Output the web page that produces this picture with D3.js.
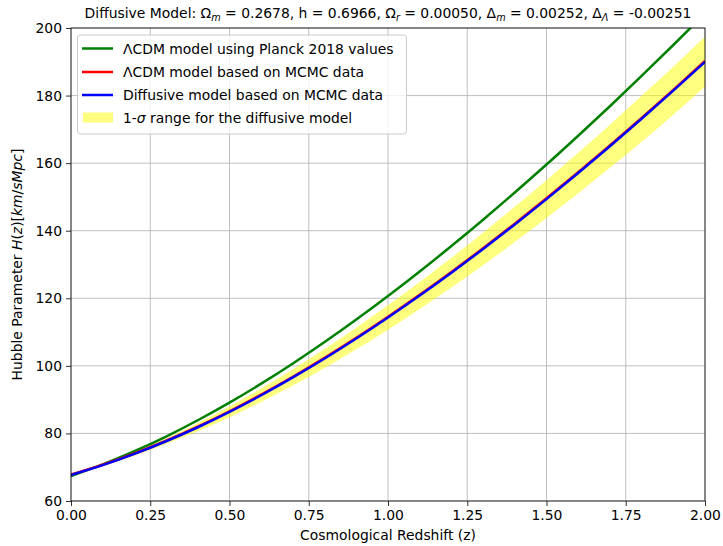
<!DOCTYPE html>
<html>
<head>
<meta charset="utf-8">
<script src="https://cdn.jsdelivr.net/npm/d3@7"></script>
<style>
  html, body { margin: 0; padding: 0; background: #fff; }
  svg { display: block; font-family: "DejaVu Sans", sans-serif; }
</style>
</head>
<body>
<svg id="chart" width="723" height="546"></svg>
<script>
// Redshift samples
const redshift = [0.0, 0.1, 0.2, 0.3, 0.4, 0.5, 0.6, 0.7, 0.8, 0.9, 1.0,
                  1.1, 1.2, 1.3, 1.4, 1.5, 1.6, 1.7, 1.8, 1.9, 2.0];
// ΛCDM with Planck 2018 parameters
const hPlanck = [67.40, 70.83, 74.73, 79.09, 83.90, 89.11, 94.73, 100.71, 107.04, 113.70, 120.66,
                 127.92, 135.46, 143.26, 151.31, 159.59, 168.12, 176.85, 185.81, 194.97, 204.30];
// ΛCDM fitted to MCMC chains
const hLcdmMcmc = [67.80, 70.72, 74.07, 77.84, 82.00, 86.56, 91.49, 96.77, 102.38, 108.30, 114.53,
                   121.03, 127.80, 134.83, 142.10, 149.59, 157.31, 165.24, 173.37, 181.70, 190.22];
// Diffusive model fitted to MCMC chains
const hDiffusive = [67.70, 70.60, 73.93, 77.68, 81.83, 86.38, 91.30, 96.57, 102.17, 108.09, 114.31,
                    120.80, 127.57, 134.60, 141.86, 149.35, 157.07, 165.00, 173.13, 181.46, 189.98];
// 1-sigma band of the diffusive model
const hDiffLower = [67.70, 70.40, 73.43, 76.88, 80.63, 84.78, 89.30, 94.17, 99.37, 104.89, 110.71,
                    116.80, 123.17, 129.80, 136.66, 143.75, 151.07, 158.60, 166.33, 174.36, 182.58];
const hDiffUpper = [67.70, 70.80, 74.43, 78.48, 83.03, 87.98, 93.30, 98.97, 104.97, 111.29, 117.91,
                    124.80, 131.97, 139.40, 147.06, 154.95, 163.07, 171.40, 179.93, 188.56, 197.38];

const xTicks = [0.00, 0.25, 0.50, 0.75, 1.00, 1.25, 1.50, 1.75, 2.00];
const yTicks = [60, 80, 100, 120, 140, 160, 180, 200];

const FS = 13.9;
const LW = 2.5;
const svg = d3.select("#chart");
const m = { left: 71, right: 705, top: 28, bottom: 501 };

const x = d3.scaleLinear().domain([0, 2]).range([m.left, m.right]);
const y = d3.scaleLinear().domain([60, 200]).range([m.bottom, m.top]);

const defs = svg.append("defs");
defs.append("clipPath").attr("id", "plot-clip")
  .append("rect").attr("x", m.left).attr("y", m.top)
  .attr("width", m.right - m.left).attr("height", m.bottom - m.top);

// grid
const grid = svg.append("g").attr("stroke", "#b0b0b0").attr("stroke-width", 0.8);
grid.selectAll("line.gx").data(xTicks).join("line")
  .attr("x1", d => x(d)).attr("x2", d => x(d))
  .attr("y1", m.top).attr("y2", m.bottom);
grid.selectAll("line.gy").data(yTicks).join("line")
  .attr("x1", m.left).attr("x2", m.right)
  .attr("y1", d => y(d)).attr("y2", d => y(d));

const plot = svg.append("g").attr("clip-path", "url(#plot-clip)");
const pts = redshift.map((z, i) => i);

// sigma band
plot.append("path")
  .datum(pts)
  .attr("fill", "#ffff00").attr("fill-opacity", 0.5)
  .attr("d", d3.area()
    .x(i => x(redshift[i]))
    .y0(i => y(hDiffLower[i]))
    .y1(i => y(hDiffUpper[i]))
    .curve(d3.curveMonotoneX));

const line = arr => d3.line()
  .x(i => x(redshift[i]))
  .y(i => y(arr[i]))
  .curve(d3.curveMonotoneX)(pts);

plot.append("path").attr("d", line(hPlanck))
  .attr("fill", "none").attr("stroke", "#008000").attr("stroke-width", LW);
plot.append("path").attr("d", line(hLcdmMcmc))
  .attr("fill", "none").attr("stroke", "#ff0000").attr("stroke-width", LW);
plot.append("path").attr("d", line(hDiffusive))
  .attr("fill", "none").attr("stroke", "#0000ff").attr("stroke-width", LW);

// axes
const xAxis = d3.axisBottom(x).tickValues(xTicks).tickFormat(d3.format(".2f")).tickSize(5).tickPadding(4);
const yAxis = d3.axisLeft(y).tickValues(yTicks).tickFormat(d3.format("d")).tickSize(5).tickPadding(4);

const gx = svg.append("g").attr("transform", `translate(0,${m.bottom})`).call(xAxis);
const gy = svg.append("g").attr("transform", `translate(${m.left},0)`).call(yAxis);
[gx, gy].forEach(g => {
  g.select(".domain").remove();
  g.selectAll("text").attr("font-size", FS).attr("font-family", "DejaVu Sans").attr("fill", "#000");
  g.selectAll("line").attr("stroke", "#000").attr("stroke-width", 0.8);
});

// frame
svg.append("rect")
  .attr("x", m.left).attr("y", m.top)
  .attr("width", m.right - m.left).attr("height", m.bottom - m.top)
  .attr("fill", "none").attr("stroke", "#000").attr("stroke-width", 0.8);

// axis labels
svg.append("text")
  .attr("x", (m.left + m.right) / 2).attr("y", 540)
  .attr("text-anchor", "middle").attr("font-size", FS)
  .text("Cosmological Redshift (z)");

const yl = svg.append("text")
  .attr("transform", `translate(22,${(m.top + m.bottom) / 2}) rotate(-90)`)
  .attr("text-anchor", "middle").attr("font-size", FS);
yl.append("tspan").text("Hubble Parameter ");
yl.append("tspan").attr("font-style", "italic").text("H");
yl.append("tspan").text("(");
yl.append("tspan").attr("font-style", "italic").text("z");
yl.append("tspan").text(")[");
yl.append("tspan").attr("font-style", "italic").text("km");
yl.append("tspan").text("/");
yl.append("tspan").attr("font-style", "italic").text("sMpc");
yl.append("tspan").text("]");

// title with subscripted symbols
const title = svg.append("text")
  .attr("x", (m.left + m.right) / 2).attr("y", 18)
  .attr("text-anchor", "middle").attr("font-size", FS);
const titleParts = [
  ["Diffusive Model: Ω", "m"],
  [" = 0.2678, h = 0.6966, Ω", "r"],
  [" = 0.00050, Δ", "m"],
  [" = 0.00252, Δ", "Λ"],
  [" = -0.00251", null]
];
titleParts.forEach(([t, s], i) => {
  title.append("tspan").attr("dy", i === 0 ? 0 : -3).text(t);
  if (s) title.append("tspan").attr("font-size", 9.7).attr("font-style", "italic").attr("dy", 3).text(s);
});

// legend
const legendItems = [
  { parts: [["ΛCDM model using Planck 2018 values", false]], color: "#008000", type: "line" },
  { parts: [["ΛCDM model based on MCMC data", false]], color: "#ff0000", type: "line" },
  { parts: [["Diffusive model based on MCMC data", false]], color: "#0000ff", type: "line" },
  { parts: [["1-", false], ["σ", true], [" range for the diffusive model", false]], color: "#ffff00", type: "patch" }
];
const lg = svg.append("g");
lg.append("rect")
  .attr("x", 77.5).attr("y", 35).attr("width", 329).attr("height", 99)
  .attr("rx", 3).attr("fill", "#fff").attr("fill-opacity", 0.8)
  .attr("stroke", "#cccccc").attr("stroke-width", 1);
const rowY = [48.5, 72, 95, 117.5];
legendItems.forEach((d, i) => {
  const ry = rowY[i];
  if (d.type === "line") {
    lg.append("line").attr("x1", 82).attr("x2", 113)
      .attr("y1", ry).attr("y2", ry)
      .attr("stroke", d.color).attr("stroke-width", LW);
  } else {
    lg.append("rect").attr("x", 83).attr("y", ry - 5).attr("width", 30).attr("height", 10)
      .attr("fill", d.color).attr("fill-opacity", 0.5);
  }
  const t = lg.append("text").attr("x", 123).attr("y", ry + 5).attr("font-size", FS);
  d.parts.forEach(([s, it]) => {
    const sp = t.append("tspan").text(s);
    if (it) sp.attr("font-style", "italic");
  });
});
</script>
</body>
</html>
